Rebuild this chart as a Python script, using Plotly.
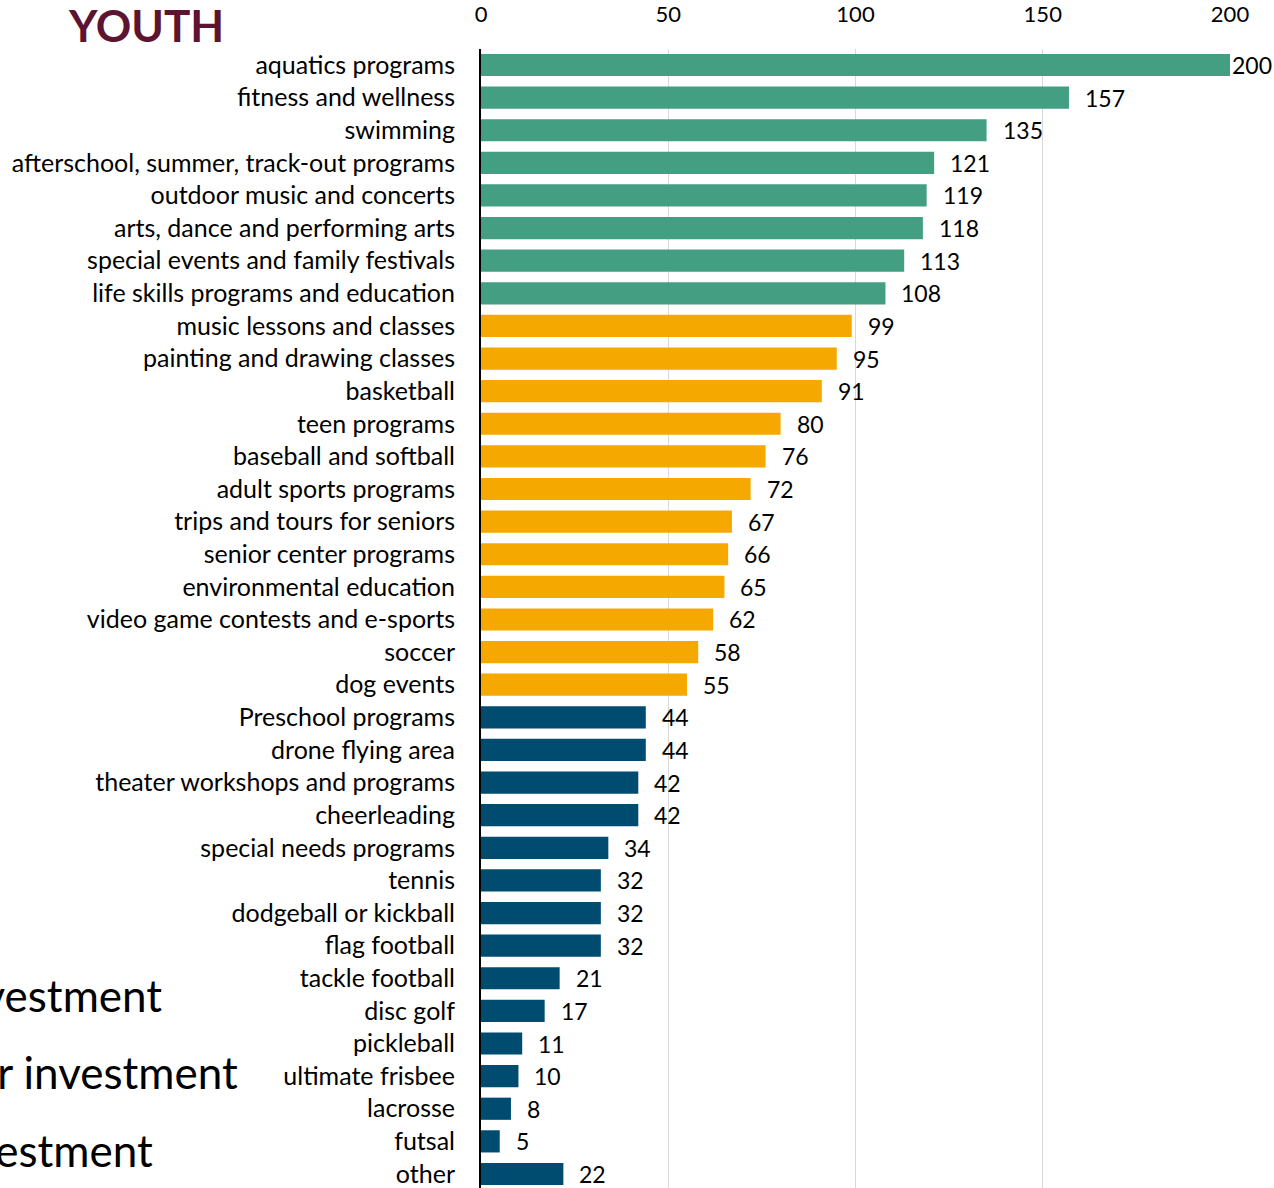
import plotly.graph_objects as go

categories = [
    "aquatics programs", "fitness and wellness", "swimming",
    "afterschool, summer, track-out programs", "outdoor music and concerts",
    "arts, dance and performing arts", "special events and family festivals",
    "life skills programs and education", "music lessons and classes",
    "painting and drawing classes", "basketball", "teen programs",
    "baseball and softball", "adult sports programs", "trips and tours for seniors",
    "senior center programs", "environmental education",
    "video game contests and e-sports", "soccer", "dog events",
    "Preschool programs", "drone flying area", "theater workshops and programs",
    "cheerleading", "special needs programs", "tennis", "dodgeball or kickball",
    "flag football", "tackle football", "disc golf", "pickleball",
    "ultimate frisbee", "lacrosse", "futsal", "other",
]
values = [200, 157, 135, 121, 119, 118, 113, 108, 99, 95, 91, 80, 76, 72, 67,
          66, 65, 62, 58, 55, 44, 44, 42, 42, 34, 32, 32, 32, 21, 17, 11, 10, 8, 5, 22]
tiers = ["high"] * 8 + ["medium"] * 12 + ["low"] * 15
tier_colors = {"high": "#449E82", "medium": "#F5A800", "low": "#004B70"}
x_ticks = [0, 50, 100, 150, 200]
side_labels = ["Higher investment", "Moderate or lower investment", "Lower investment"]

FONT = "Lato, 'Open Sans', sans-serif"

fig = go.Figure()
fig.add_trace(go.Bar(
    x=values, y=categories, orientation="h",
    marker=dict(color=[tier_colors[t] for t in tiers], line=dict(width=0)),
    hoverinfo="x+y",
))

for c, v in zip(categories, values):
    fig.add_annotation(
        x=v, y=c, xref="x", yref="y", text=str(v), showarrow=False,
        xanchor="left", xshift=(0 if v >= 200 else 14),
        font=dict(size=23, color="#000000", family=FONT),
    )

fig.add_annotation(
    x=(67 - 481) / 749, y=1.0, xref="paper", yref="paper",
    text="<b>YOUTH</b>", showarrow=False, xanchor="left", yanchor="middle",
    yshift=24, borderpad=0, font=dict(size=44, color="#5C1430", family=FONT),
)

side_y = [995, 1072, 1150]
side_right = [164, 240, 155]
for txt, yy, xr in zip(side_labels, side_y, side_right):
    fig.add_annotation(
        x=(xr - 481) / 749, y=1 - (yy - 49) / 1139, xref="paper", yref="paper",
        text=txt, showarrow=False, xanchor="right", yanchor="middle",
        font=dict(size=44, color="#000000", family=FONT),
    )

n = len(categories)
fig.update_layout(
    width=1274, height=1188,
    margin=dict(l=481, r=44, t=49, b=0),
    paper_bgcolor="white", plot_bgcolor="white",
    bargap=0.32, showlegend=False,
    font=dict(family=FONT, size=22, color="#000000"),
    xaxis=dict(
        side="top", range=[0, 200], tickvals=x_ticks,
        showgrid=True, gridcolor="#D9D9D9", gridwidth=1,
        zeroline=False, showline=False, ticks="",
        ticklabelstandoff=22, tickfont=dict(size=22, family=FONT),
    ),
    yaxis=dict(
        categoryorder="array", categoryarray=categories,
        range=[n - 1 + 0.43, -0.49],
        showline=True, linecolor="#000000", linewidth=2,
        showgrid=False, ticks="", ticklabelstandoff=19,
        tickfont=dict(size=25, family=FONT),
    ),
)

fig.write_html("out.html")
